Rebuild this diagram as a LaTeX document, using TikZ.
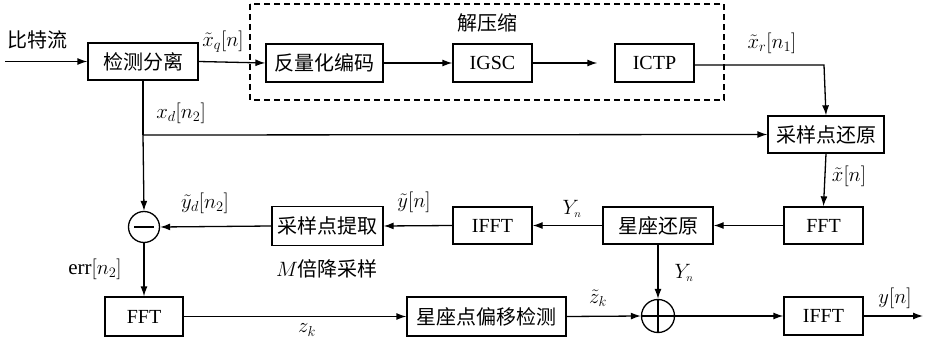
\documentclass[tikz,border=0pt]{standalone}
\usepackage{fontspec}
\setmainfont{Liberation Serif}
\newfontfamily\cjk{Noto Sans CJK SC}
\usetikzlibrary{arrows.meta}
\begin{document}
\begin{tikzpicture}[x=1pt,y=-1pt,
  font=\fontsize{20}{24}\selectfont,
  blk/.style={draw,line width=1.3pt,minimum height=37pt,inner sep=0pt},
  summ/.style={draw,line width=1.3pt,circle,minimum size=31pt,inner sep=0pt},
  conn/.style={line width=1.3pt},
  arr/.style={conn,-{Latex[length=10pt,width=7pt]}},
  lbl/.style={inner sep=0pt,font=\fontsize{21}{24}\selectfont}]
\useasboundingbox (0,0) rectangle (927,342);
% dashed box
\draw[line width=1.3pt,dash pattern=on 6pt off 4pt] (250,4) rectangle (724,100);
\node[lbl,font=\fontsize{20}{24}\selectfont] (dcl) at (487,23) {\cjk 解压缩};
% blocks
\node[blk,minimum width=110pt] (det) at (143,61.5) {\cjk 检测分离};
\node[blk,minimum width=117pt,minimum height=38pt] (deq) at (324.5,63) {\cjk 反量化编码};
\node[blk,minimum width=79pt,minimum height=38pt] (igsc) at (492.5,63) {IGSC};
\node[blk,minimum width=79pt,minimum height=38pt] (ictp) at (654.5,63) {ICTP};
\node[blk,minimum width=116pt] (rest) at (826,134.5) {\cjk 采样点还原};
\node[blk,minimum width=79pt] (fftA) at (823.5,225.5) {FFT};
\node[blk,minimum width=110pt] (star) at (658,225.5) {\cjk 星座还原};
\node[blk,minimum width=79pt] (ifftA) at (492.5,225.5) {IFFT};
\node[blk,minimum width=111pt,minimum height=39pt] (ext) at (327.5,226) {\cjk 采样点提取};
\node[summ] (minus) at (144,227) {};
\draw[conn] ([xshift=-10pt]minus.center) -- ([xshift=10pt]minus.center);
\node[blk,minimum width=78pt,minimum height=39pt] (fftB) at (144,316.5) {FFT};
\node[blk,minimum width=159pt,minimum height=39pt] (detB) at (486.5,316.5) {\cjk 星座点偏移检测};
\node[summ,minimum size=33pt] (plus) at (658,316) {};
\draw[conn] (plus.west) -- (plus.east) (plus.north) -- (plus.south);
\node[blk,minimum width=79pt,minimum height=38pt] (ifftB) at (823.5,316) {IFFT};
\coordinate (in) at (5,61.5);
\coordinate (out) at (923,316);
\coordinate (jn) at (143,135);
\coordinate (corner) at (824,65);
% connectors
\draw[arr] (in) -- (det.west);
\draw[arr] (det.east) -- (deq.west);
\draw[arr] (deq.east) -- (igsc.west);
\draw[arr,shorten >=17pt] (igsc.east) -- (ictp.west);
\draw[arr] (ictp.east |- corner) -- (corner) -- (rest.north);
\draw[conn] (det.south) -- (jn);
\draw[arr] (jn) -- (rest.west);
\draw[arr] (jn) -- (minus.north);
\draw[arr] (rest.south) -- (fftA.north);
\draw[arr] (fftA.west) -- (star.east);
\draw[arr] (star.west) -- (ifftA.east);
\draw[arr] (ifftA.west) -- (ext.east);
\draw[arr] (ext.west) -- (minus.east);
\draw[arr] (minus.south) -- (fftB.north);
\draw[arr] (fftB.east) -- (detB.west);
\draw[arr] (detB.east) -- (plus.west);
\draw[arr] (star.south) -- (plus.north);
\draw[arr] (plus.east) -- (ifftB.west);
\draw[arr] (ifftB.east) -- (out);
% labels
\node[lbl,font=\fontsize{20}{24}\selectfont] (l1) at (38,40) {\cjk 比特流};
\node[lbl] (l2) at (223,42) {$\tilde{x}_q[n]$};
\node[lbl] (l3) at (772,43) {$\tilde{x}_r[n_1]$};
\node[lbl] (l4) at (181,113) {$x_d[n_2]$};
\node[lbl] (l5) at (849,176) {$\tilde{x}[n]$};
\node[lbl] (l6) at (205,203) {$\tilde{y}_d[n_2]$};
\node[lbl] (l7) at (414,202) {$\tilde{y}[n]$};
\node[lbl] (l8) at (572,209) {$Y_{\scriptscriptstyle n}$};
\node[lbl,font=\fontsize{20}{24}\selectfont] (l9) at (327,269) {$M$\cjk 倍降采样};
\node[lbl] (l10) at (95,269) {err$[n_2]$};
\node[lbl] (l11) at (307,330) {$z_k$};
\node[lbl] (l12) at (598,298) {$\tilde{z}_k$};
\node[lbl] (l13) at (684,273) {$Y_{\scriptscriptstyle n}$};
\node[lbl] (l14) at (895,298) {$y[n]$};
\end{tikzpicture}
\end{document}
